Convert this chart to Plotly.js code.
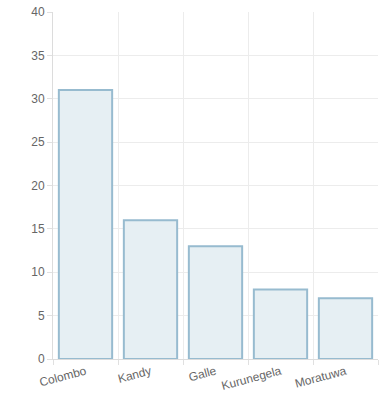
<!DOCTYPE html>
<html>
<head>
<meta charset="utf-8">
<script src="https://cdn.plot.ly/plotly-3.0.1.min.js"></script>
<style>html,body{margin:0;padding:0;background:#fff;}#chart{width:384px;height:400px;}</style>
</head>
<body>
<div id="chart"></div>
<script>
const categories = ["Colombo", "Kandy", "Galle", "Kurunegela", "Moratuwa"];
const values = [31, 16, 13, 8, 7];
const yTicks = [0, 5, 10, 15, 20, 25, 30, 35, 40];

const trace = {
  type: "bar",
  x: categories,
  y: values,
  width: 0.82,
  marker: {
    color: "#e6eff3",
    line: { color: "#97bbcf", width: 2 }
  },
  hoverinfo: "x+y"
};

const layout = {
  width: 384,
  height: 400,
  margin: { l: 53, r: 6, t: 12, b: 41 },
  paper_bgcolor: "#ffffff",
  plot_bgcolor: "#ffffff",
  showlegend: false,
  font: { family: "Liberation Sans, Arial, sans-serif", size: 12, color: "#666666" },
  xaxis: {
    type: "category",
    tickson: "boundaries",
    showgrid: true,
    gridcolor: "#ececec",
    gridwidth: 1,
    ticks: "outside",
    ticklen: 5,
    tickcolor: "#e0e0e0",
    tickangle: -15,
    tickfont: { size: 12, color: "#666666" },
    showline: true,
    linecolor: "#dcdcdc",
    linewidth: 1,
    zeroline: false,
    fixedrange: true
  },
  yaxis: {
    range: [0, 40],
    tickvals: yTicks,
    ticktext: yTicks.map(String),
    showgrid: true,
    gridcolor: "#ececec",
    gridwidth: 1,
    ticks: "outside",
    ticklen: 5,
    tickcolor: "#e0e0e0",
    tickfont: { size: 12, color: "#666666" },
    showline: true,
    linecolor: "#dcdcdc",
    linewidth: 1,
    zeroline: false,
    fixedrange: true
  }
};

Plotly.newPlot("chart", [trace], layout, { displayModeBar: false, staticPlot: true });
</script>
</body>
</html>
